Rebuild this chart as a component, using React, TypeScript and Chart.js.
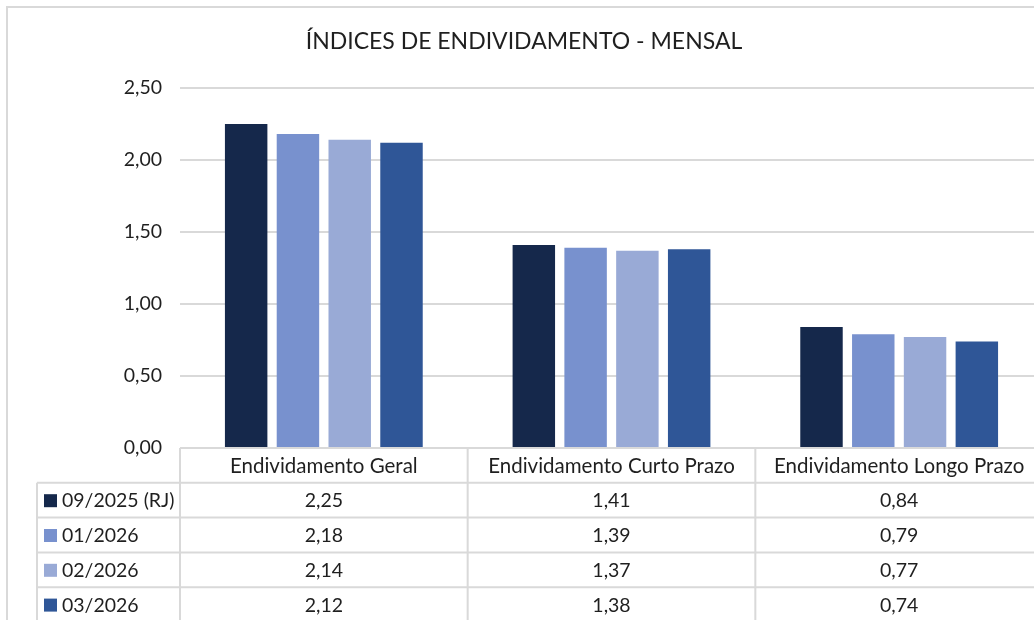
import React, { useEffect, useRef } from "react";
import { Chart, registerables } from "chart.js";

Chart.register(...registerables);

const TITLE = "ÍNDICES DE ENDIVIDAMENTO - MENSAL";
const categories = ["Endividamento Geral", "Endividamento Curto Prazo", "Endividamento Longo Prazo"];
const seriesNames = ["09/2025 (RJ)", "01/2026", "02/2026", "03/2026"];
const seriesColors = ["#15284B", "#7891CE", "#99AAD6", "#2F5697"];
const s0925 = [2.25, 1.41, 0.84];
const s0126 = [2.18, 1.39, 0.79];
const s0226 = [2.14, 1.37, 0.77];
const s0326 = [2.12, 1.38, 0.74];
const seriesValues = [s0925, s0126, s0226, s0326];
const yTicks = [0, 0.5, 1, 1.5, 2, 2.5];

const FONT = "Lato";
const TEXT = "#1F1F1F";
const LINE = "#D9D9D9";
const fmt = (v: number) => v.toFixed(2).replace(".", ",");

const decoPlugin = {
  id: "deco",
  afterDraw(chart: any) {
    const { ctx, chartArea, scales } = chart;
    const x = scales.x;
    const n = categories.length;
    const colW = chartArea.width / n;
    const rowH = 34.8;
    const top = chartArea.bottom;
    const legLeft = 37;
    ctx.save();
    // outer chart border
    ctx.strokeStyle = LINE;
    ctx.lineWidth = 2;
    ctx.beginPath();
    ctx.moveTo(7, 700);
    ctx.lineTo(7, 7);
    ctx.lineTo(1100, 7);
    ctx.stroke();
    // title
    ctx.fillStyle = TEXT;
    ctx.font = `23px ${FONT}`;
    ctx.textAlign = "center";
    ctx.textBaseline = "middle";
    ctx.fillText(TITLE, 524, 42);
    // table grid
    ctx.strokeStyle = LINE;
    ctx.lineWidth = 2;
    ctx.beginPath();
    const rows = seriesNames.length;
    for (let r = 0; r <= rows + 1; r++) {
      const y = top + r * rowH;
      ctx.moveTo(r === 0 ? chartArea.left : legLeft, y);
      ctx.lineTo(chartArea.right + 10, y);
    }
    ctx.moveTo(legLeft, top + rowH);
    ctx.lineTo(legLeft, top + (rows + 1) * rowH + 10);
    for (let c = 0; c <= n; c++) {
      const xx = chartArea.left + c * colW;
      ctx.moveTo(xx, top);
      ctx.lineTo(xx, top + (rows + 1) * rowH + 10);
    }
    ctx.stroke();
    // header
    ctx.fillStyle = TEXT;
    ctx.font = `20.5px ${FONT}`;
    ctx.textAlign = "center";
    ctx.textBaseline = "middle";
    categories.forEach((cat, i) => {
      ctx.fillText(cat, x.getPixelForValue(i), top + rowH / 2 + 1);
    });
    // rows
    ctx.font = `19.5px ${FONT}`;
    seriesNames.forEach((name, r) => {
      const cy = top + (r + 1) * rowH + rowH / 2 + 1;
      ctx.fillStyle = seriesColors[r];
      ctx.fillRect(44, cy - 7, 13, 13);
      ctx.fillStyle = TEXT;
      ctx.textAlign = "left";
      ctx.fillText(name, 62, cy);
      ctx.textAlign = "center";
      seriesValues[r].forEach((v, i) => {
        ctx.fillText(fmt(v), x.getPixelForValue(i), cy);
      });
    });
    ctx.restore();
  },
};

export default function App() {
  const ref = useRef<HTMLCanvasElement>(null);
  useEffect(() => {
    const canvas = ref.current!;
    const chart = new Chart(canvas, {
      type: "bar",
      data: {
        labels: categories,
        datasets: seriesNames.map((name, i) => ({
          label: name,
          data: seriesValues[i],
          backgroundColor: seriesColors[i],
          categoryPercentage: 0.72,
          barPercentage: 0.82,
        })),
      },
      options: {
        responsive: false,
        animation: false,
        devicePixelRatio: 1,
        layout: { padding: { left: 0, top: 88, right: 7, bottom: 192 } },
        plugins: { legend: { display: false }, tooltip: { enabled: false }, title: { display: false } },
        scales: {
          x: { display: false },
          y: {
            min: 0,
            max: 2.5,
            afterBuildTicks: (s: any) => {
              s.ticks = yTicks.map((v) => ({ value: v }));
            },
            afterFit: (s: any) => {
              s.width = 180;
            },
            ticks: {
              callback: (v: any) => fmt(Number(v)),
              color: TEXT,
              font: { family: FONT, size: 19.5 },
              padding: 18,
            },
            grid: { color: LINE, lineWidth: 2, drawTicks: false },
            border: { display: false },
          },
        },
      },
      plugins: [decoPlugin],
    });
    return () => chart.destroy();
  }, []);
  return (
    <div style={{ position: "fixed", left: 0, top: 0, width: 1034, height: 620, overflow: "hidden", background: "#fff" }}>
      <canvas ref={ref} width={1050} height={640} style={{ display: "block", width: 1050, height: 640 }} />
    </div>
  );
}
